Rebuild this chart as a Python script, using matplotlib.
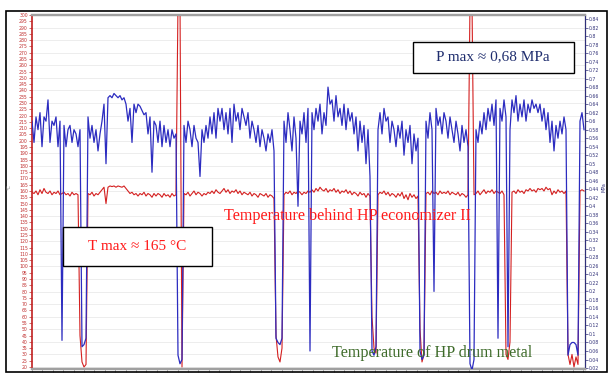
import numpy as np
import matplotlib.pyplot as plt
from matplotlib.patches import Rectangle

# pressure (MPa), one reading every 2 time units
pressure = [
    0.60, 0.55, 0.61, 0.58, 0.62, 0.54, 0.61, 0.60, 0.65, 0.55, 0.60, 0.59, 0.61, 0.54, 0.60,
    0.085,
    0.59, 0.54, 0.58, 0.59, 0.55, 0.58, 0.57, 0.54, 0.58,
    0.07, 0.075, 0.09,
    0.61, 0.56, 0.59, 0.55, 0.58, 0.53, 0.57,
    0.60, 0.64, 0.50, 0.655,
    0.66, 0.655, 0.665, 0.66, 0.655, 0.66, 0.65, 0.655,
    0.64, 0.60, 0.63, 0.55, 0.64, 0.62, 0.64, 0.635, 0.625, 0.615, 0.62, 0.57, 0.61,
    0.48, 0.60, 0.59, 0.55, 0.60, 0.54, 0.59, 0.55, 0.58, 0.54, 0.58, 0.56, 0.57,
    0.05, 0.03, 0.04,
    0.59, 0.55, 0.60, 0.58, 0.54, 0.59, 0.56, 0.55, 0.47, 0.58, 0.55, 0.59, 0.56, 0.61,
    0.57, 0.62, 0.56, 0.63, 0.60, 0.63, 0.58,
    0.62, 0.57, 0.63, 0.55, 0.64, 0.60, 0.62, 0.58, 0.63, 0.61, 0.59, 0.62, 0.56, 0.60,
    0.58, 0.55, 0.59, 0.54, 0.58, 0.56, 0.53, 0.57, 0.55, 0.58, 0.53,
    0.09, 0.08, 0.075, 0.09,
    0.60, 0.55, 0.62, 0.58, 0.53, 0.61, 0.56, 0.40, 0.60, 0.57, 0.62, 0.55, 0.63,
    0.06,
    0.62, 0.58, 0.63, 0.60, 0.64, 0.57, 0.62, 0.59, 0.68, 0.64, 0.65, 0.60, 0.66, 0.61,
    0.63, 0.59, 0.64, 0.58, 0.63, 0.60, 0.62, 0.57, 0.61, 0.53, 0.60, 0.55, 0.59, 0.50,
    0.58, 0.47,
    0.06, 0.05, 0.07,
    0.58, 0.62, 0.57, 0.63, 0.60, 0.61, 0.55, 0.60, 0.58, 0.54, 0.59, 0.56, 0.60, 0.52,
    0.58, 0.55, 0.59, 0.50, 0.57, 0.53, 0.56,
    0.06, 0.04, 0.05,
    0.60, 0.56, 0.62, 0.58, 0.20, 0.63, 0.59, 0.61, 0.57, 0.62, 0.60, 0.56, 0.61, 0.58,
    0.55, 0.60, 0.57, 0.53, 0.59, 0.55, 0.58, 0.54,
    0.03, 0.015, 0.04,
    0.58, 0.55, 0.60, 0.57, 0.62, 0.58, 0.63, 0.60, 0.64, 0.59, 0.65, 0.09, 0.63, 0.60,
    0.65, 0.61, 0.07, 0.58, 0.65, 0.62, 0.66, 0.60, 0.64, 0.61, 0.65, 0.60, 0.64, 0.62,
    0.65, 0.63, 0.64, 0.62, 0.64, 0.60, 0.63, 0.58, 0.62, 0.55, 0.60, 0.53, 0.59, 0.56,
    0.60, 0.57, 0.61, 0.58,
    0.05, 0.075, 0.08, 0.08, 0.075, 0.05,
    0.60, 0.62, 0.58,
]

# temperature behind HP economizer II (deg C)
temperature = [
    159, 158, 160, 157, 161, 158, 162, 159, 158, 160, 157, 159, 158, 160, 157,
    158, 159, 157, 158, 156, 159, 157, 158, 157,
    45, 24, 20, 22,
    158, 157, 159, 156, 158, 157, 159,
    161, 163, 150, 163, 164, 163.5, 164, 163, 164, 163.5, 163, 164,
    162, 160, 158, 159, 157, 158, 156, 158, 157, 159, 156, 158, 157, 155, 158, 156,
    158, 157, 155, 158, 156, 157, 155, 158, 156, 157,
    310, 310, 20,
    158, 157, 159, 156, 158, 160, 157, 159, 158, 156, 158, 157, 159, 158, 160, 158,
    161, 159, 158, 160, 162, 159, 161, 158, 160, 159, 161, 158, 160, 157, 159, 158,
    157, 159, 156, 158, 157, 155, 158, 157, 156, 158, 155, 157, 156, 154,
    45, 28, 24, 35,
    157, 159, 158, 160, 157, 159, 158, 160, 159, 157, 159, 158, 160, 159, 161, 159,
    162, 160, 163, 161, 160, 162, 159, 161, 160, 162, 159, 161, 158, 160, 159, 161,
    158, 160, 157, 159, 158, 156, 159, 157, 158, 155, 158, 156,
    60, 35, 31,
    157, 159, 158, 160, 157, 159, 156, 158, 157, 155, 158, 156, 159, 154, 157, 153,
    158, 155, 157, 154, 156,
    50, 24, 30,
    158, 159, 157, 160, 158, 159, 157, 160, 158, 159, 158, 160, 157, 159, 158, 157,
    159, 156, 158, 157, 155, 157,
    310, 310, 157,
    158, 160, 157, 159, 161, 158, 160, 159, 161, 158, 160, 159, 158, 160, 157,
    30, 26, 40,
    159, 160, 158, 161, 159, 160, 158, 161, 160, 162, 160, 161, 159, 162, 161, 162,
    160, 163, 161, 162, 157, 160, 158, 161, 159, 160, 158, 160,
    30, 22, 30, 20, 28, 22,
    160, 161, 160,
]

t_ticks = np.arange(20, 301, 5)
p_ticks = np.arange(0.02, 0.845, 0.02)

t_p = np.arange(len(pressure)) * 2
t_t = np.arange(len(temperature)) * 2

fig = plt.figure(figsize=(6.09, 3.74), dpi=100)
W, H = 609, 374
ax = fig.add_axes([32 / W, 1 - 369 / H, (585 - 32) / W, (369 - 15) / H])
ax2 = ax.twinx()

# outer frame
fig.patches.append(Rectangle((6 / W, 1 - 372 / H), 601 / W, 361 / H, transform=fig.transFigure,
                             fill=False, edgecolor='black', linewidth=1.2))

ax.hlines(t_ticks[::2], 0, 553, color='#e6e6e6', lw=0.5, zorder=0)
ax.plot(t_t, temperature, color='#d42020', lw=0.8, zorder=3)
ax2.plot(t_p, pressure, color='#2c2cc0', lw=0.9, zorder=3)

ax.set_xlim(0, 553)
ax.set_ylim(18.4, 300)
ax2.set_ylim(0.0177, 0.8494)

ax.set_yticks(t_ticks)
ax.set_yticklabels([str(v) for v in t_ticks])
ax2.set_yticks(p_ticks)
ax2.set_yticklabels(['%g' % round(v, 2) for v in p_ticks])

ax.tick_params(axis='y', colors='#c03030', labelsize=3.3, length=2, width=0.5, pad=1)
ax2.tick_params(axis='y', colors='#33337a', labelsize=3.3, length=2, width=0.5, pad=1)
ax.set_xticks(np.arange(0, 553, 10.4))
ax.set_xticklabels([])
ax.tick_params(axis='x', colors='#909090', length=2, width=0.5)

ax.spines['left'].set_color('#c02020')
ax.spines['left'].set_linewidth(1.2)
ax2.spines['left'].set_visible(False)
ax2.spines['right'].set_color('#30307a')
ax2.spines['right'].set_linewidth(0.8)
for a in (ax, ax2):
    a.spines['top'].set_color('#a0a0a0')
    a.spines['top'].set_linewidth(1.6)
    a.spines['bottom'].set_color('#a0a0a0')
    a.spines['bottom'].set_linewidth(1.6)

fig.text(9 / W, 1 - 187 / H, '°C', fontsize=3.5, color='#888888', rotation=90, va='center', ha='center')
fig.text(604 / W, 1 - 187 / H, 'MPa', fontsize=3.5, color='#33337a', rotation=90, va='center', ha='center')

serif = ['Liberation Serif', 'DejaVu Serif']
fig.text(347 / W, 1 - 216 / H, 'Temperature behind HP economizer II', family=serif,
         fontsize=11.6, color='#ff1a1a', ha='center', va='center')
fig.text(432 / W, 1 - 353 / H, 'Temperature of HP drum metal', family=serif,
         fontsize=11.6, color='#3e6b2a', ha='center', va='center')

fig.patches.append(Rectangle((413 / W, 1 - 73 / H), 161 / W, 31 / H, transform=fig.transFigure,
                             facecolor='white', edgecolor='black', linewidth=1.0, zorder=5))
fig.text(493 / W, 1 - 57 / H, 'P max ≈ 0,68 MPa', family=serif, fontsize=11,
         color='#1f2d6e', ha='center', va='center', zorder=6)
fig.patches.append(Rectangle((63 / W, 1 - 266 / H), 149 / W, 39 / H, transform=fig.transFigure,
                             facecolor='white', edgecolor='black', linewidth=1.0, zorder=5))
fig.text(137 / W, 1 - 247 / H, 'T max ≈ 165 °C', family=serif, fontsize=11,
         color='#ff1a1a', ha='center', va='center', zorder=6)

fig.savefig('out.png', dpi=100)
